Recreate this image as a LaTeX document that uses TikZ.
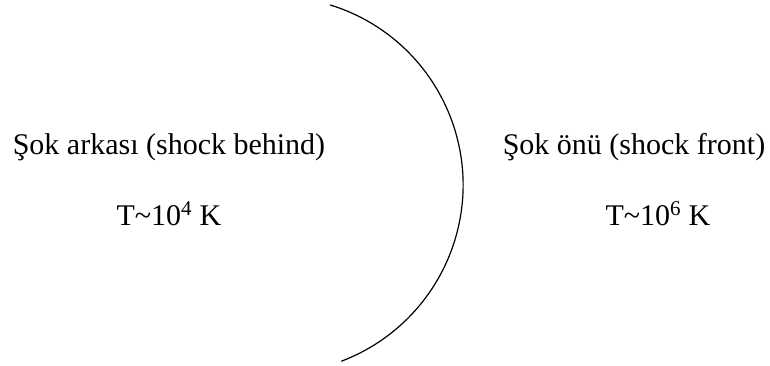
\documentclass[tikz,border=0pt]{standalone}
\usepackage{fontspec}
\setmainfont{Liberation Serif}
\begin{document}
\begin{tikzpicture}[x=1pt,y=-1pt,
  lbl/.style={inner sep=0pt,anchor=base,font=\fontsize{30}{36}\selectfont}]
\useasboundingbox[fill=white] (0,0) rectangle (770,366);
\coordinate (c) at (274.7,185);
\draw[line width=1.2pt] (c) ++(-72.9:188.4) arc[start angle=-72.9,end angle=69.3,radius=188.4];
\node[lbl] (lb) at (169,155) {Şok arkası (shock behind)};
\node[lbl] (lt) at (169,225) {T\textasciitilde10\textsuperscript{4} K};
\node[lbl] (rb) at (634,155) {Şok önü (shock front)};
\node[lbl] (rt) at (658,225) {T\textasciitilde10\textsuperscript{6} K};
\end{tikzpicture}
\end{document}
